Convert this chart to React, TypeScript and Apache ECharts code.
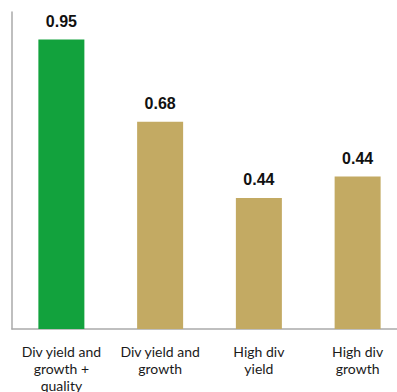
import React, { useEffect, useRef } from "react";
import * as echarts from "echarts";

const categories = [
  "Div yield and\ngrowth +\nquality",
  "Div yield and\ngrowth",
  "High div\nyield",
  "High div\ngrowth",
];
const barHeights = [0.95, 0.68, 0.43, 0.5];
const valueLabels = ["0.95", "0.68", "0.44", "0.44"];
const barColors = ["#12a23d", "#c3aa63", "#c3aa63", "#c3aa63"];

export default function App() {
  const ref = useRef<HTMLDivElement>(null);
  useEffect(() => {
    const chart = echarts.init(ref.current!, null, { renderer: "svg" });
    chart.setOption({
      animation: false,
      backgroundColor: "#ffffff",
      grid: { left: 12, top: 12, bottom: 63, width: 395, outerBoundsMode: "none", containLabel: false },
      xAxis: {
        type: "category",
        data: categories,
        axisLine: { show: true, lineStyle: { color: "#aaaaaa", width: 1.5 } },
        axisTick: { show: false },
        axisLabel: {
          color: "#1a1a1a",
          fontFamily: "Lato",
          fontSize: 14,
          lineHeight: 17,
          margin: 14,
          interval: 0,
        },
      },
      yAxis: {
        type: "value",
        min: 0,
        max: 1.04,
        axisLine: { show: true, lineStyle: { color: "#aaaaaa", width: 1.5 } },
        axisTick: { show: false },
        axisLabel: { show: false },
        splitLine: { show: false },
      },
      series: [
        {
          type: "bar",
          barWidth: 46,
          data: barHeights.map((v, i) => ({
            value: v,
            itemStyle: { color: barColors[i] },
          })),
          label: {
            show: true,
            position: "top",
            distance: 10,
            color: "#111111",
            fontFamily: "Liberation Sans",
            fontWeight: "bold",
            fontSize: 16,
            formatter: (p: any) => valueLabels[p.dataIndex],
          },
        },
      ],
    });
    return () => chart.dispose();
  }, []);
  return <div ref={ref} style={{ width: 397, height: 392, position: "fixed", left: 0, top: 0 }} />;
}
